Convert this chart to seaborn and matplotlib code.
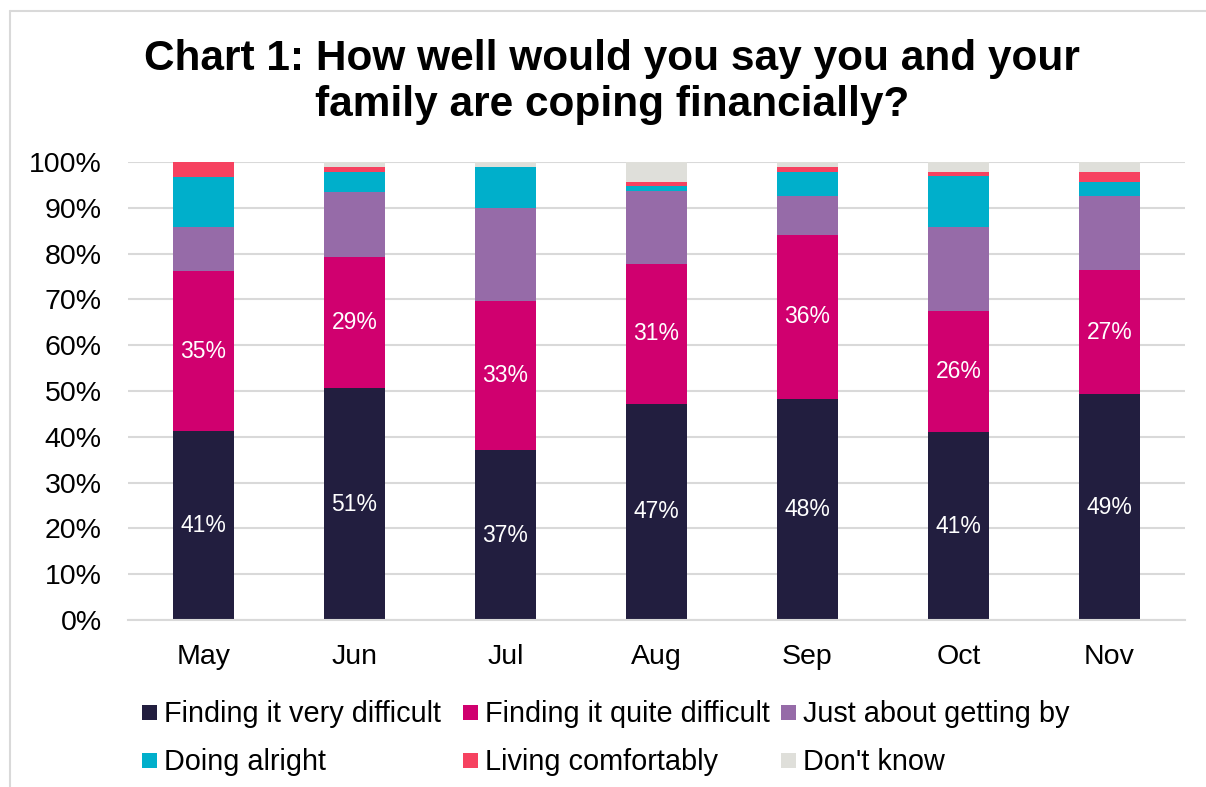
import matplotlib
matplotlib.use("Agg")
import matplotlib.pyplot as plt
from matplotlib.lines import Line2D
from matplotlib.patches import Rectangle
import numpy as np
import pandas as pd
import seaborn as sns

months = ["May", "Jun", "Jul", "Aug", "Sep", "Oct", "Nov"]
categories = [
    "Finding it very difficult",
    "Finding it quite difficult",
    "Just about getting by",
    "Doing alright",
    "Living comfortably",
    "Don't know",
]
very_difficult = [41.2, 50.6, 37.1, 47.2, 48.3, 41.0, 49.3]
quite_difficult = [35.0, 28.7, 32.6, 30.6, 35.8, 26.4, 27.1]
getting_by = [9.6, 14.2, 20.2, 15.8, 8.5, 18.5, 16.2]
doing_alright = [11.0, 4.4, 8.9, 1.1, 5.2, 11.1, 3.1]
living_comfortably = [3.2, 1.0, 0.0, 1.0, 1.0, 0.8, 2.1]
dont_know = [0.0, 1.1, 1.2, 4.3, 1.2, 2.2, 2.2]

colors = ["#221e3f", "#d0006f", "#966ba8", "#00afcb", "#f64260", "#dfdfda"]

series = [very_difficult, quite_difficult, getting_by,
          doing_alright, living_comfortably, dont_know]

df = pd.DataFrame({"month": months})
for name, vals in zip(categories, series):
    df[name] = vals
cum = df[categories].cumsum(axis=1)

sns.set_theme(style="white")
plt.rcParams["font.family"] = ["Liberation Sans", "DejaVu Sans"]
plt.rcParams["text.color"] = "black"

W, H = 1206, 787
fig = plt.figure(figsize=(W / 100, H / 100), dpi=100)
ax = fig.add_axes([128 / W, 1 - 620 / H, (1185 - 128) / W, (620 - 162) / H])

# stacked bars: draw cumulative totals from the top layer down
for name, color in reversed(list(zip(categories, colors))):
    sns.barplot(x=df["month"], y=cum[name], color=color, width=0.4,
                saturation=1, ax=ax, zorder=3, edgecolor="none")

# value labels for the two lower segments
for i, m in enumerate(months):
    v1 = very_difficult[i]
    v2 = quite_difficult[i]
    ax.text(i, v1 / 2, f"{v1:.0f}%", ha="center", va="center",
            color="white", fontsize=16.5, zorder=5)
    ax.text(i, v1 + v2 / 2, f"{v2:.0f}%", ha="center", va="center",
            color="white", fontsize=16.5, zorder=5)

ax.set_ylim(0, 100)
ax.set_xlim(-0.5, len(months) - 0.5)
ax.set_yticks(np.arange(0, 101, 10))
ax.set_yticklabels([f"{t}%" for t in range(0, 101, 10)])
ax.set_xlabel("")
ax.set_ylabel("")
ax.yaxis.grid(True, color="#d9d9d9", linewidth=1.5, zorder=0)
ax.tick_params(axis="both", length=0, labelsize=20.5, colors="black")
ax.tick_params(axis="y", pad=19)
ax.tick_params(axis="x", pad=17)
for s in ["top", "right", "left"]:
    ax.spines[s].set_visible(False)
ax.spines["bottom"].set_color("#d9d9d9")
ax.spines["bottom"].set_linewidth(1.5)
ax.spines["bottom"].set_zorder(4)

fig.text(0.5075, 1 - 82 / H,
         "Chart 1: How well would you say you and your\nfamily are coping financially?",
         ha="center", va="center", fontsize=30.5, fontweight="bold",
         linespacing=1.17, color="black")

# legend: two rows of three entries, fixed column slots
col_x = [142, 463, 781]
row_y = [712, 760]
box = 15
for k, (name, color) in enumerate(zip(categories, colors)):
    cx = col_x[k % 3]
    cy = row_y[k // 3]
    fig.add_artist(Rectangle(((cx) / W, 1 - (cy + box / 2) / H), box / W, box / H,
                             transform=fig.transFigure, facecolor=color,
                             edgecolor="none"))
    fig.text((cx + box + 7) / W, 1 - (cy + 2) / H, name, ha="left", va="center",
             fontsize=20.8, color="black")

# chart frame
fig.add_artist(Line2D([10 / W, 10 / W], [0, 1 - 10.5 / H],
                      transform=fig.transFigure, color="#d9d9d9", linewidth=1.5))
fig.add_artist(Line2D([10 / W, 1], [1 - 10.5 / H, 1 - 10.5 / H],
                      transform=fig.transFigure, color="#d9d9d9", linewidth=1.5))

fig.savefig("out.png", dpi=100, facecolor="white")
